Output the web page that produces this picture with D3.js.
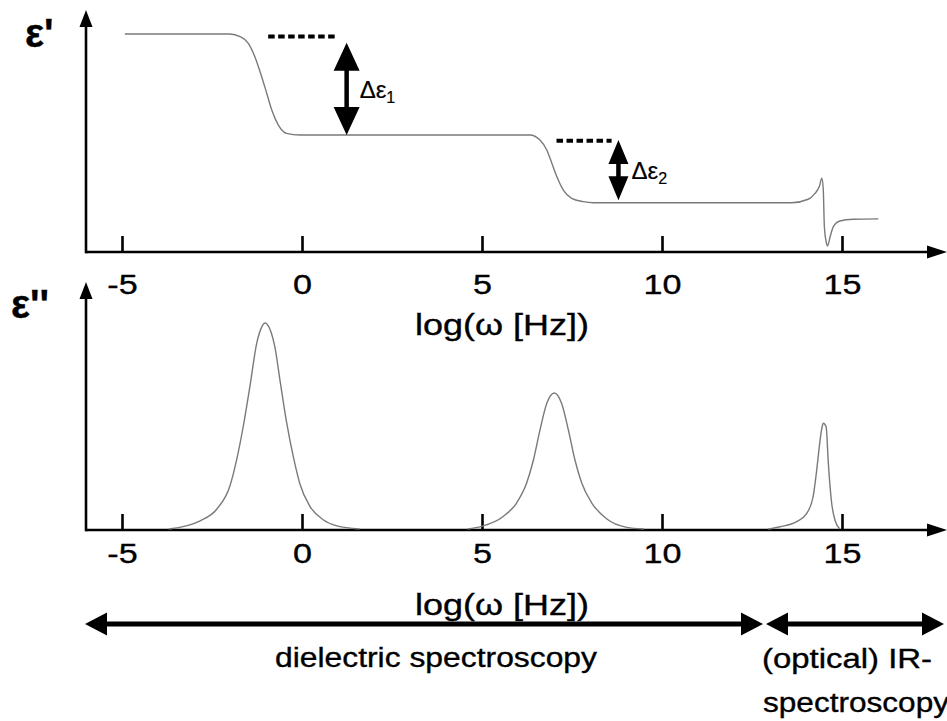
<!DOCTYPE html>
<html>
<head>
<meta charset="utf-8">
<script src="https://cdn.jsdelivr.net/npm/d3@7"></script>
<style>
  html, body { margin: 0; padding: 0; background: #fff; }
  svg { display: block; }
  text { font-family: "Liberation Sans", Arial, Helvetica, sans-serif; fill: #000; stroke: #000; stroke-width: 0.35px; }
</style>
</head>
<body>
<svg id="chart" width="947" height="721"></svg>
<script>
// log10 of angular frequency at the tick marks, and their printed labels
const tickValues = [-5, 0, 5, 10, 15];
const tickLabels = ["-5", "0", "5", "10", "15"];
const axisTitle = "log(\u03c9 [Hz])";

// real part of the permittivity: [log(omega), epsilon']
const epsReal = [
  [-4.92, 10.0], [-2.0, 10.0], [-1.72, 9.88], [-1.49, 9.57], [-1.31, 8.96],
  [-1.12, 8.04], [-0.98, 7.28], [-0.84, 6.51], [-0.66, 5.83], [-0.43, 5.44],
  [-0.06, 5.37], [6.33, 5.37], [6.61, 5.14], [6.80, 4.68], [6.94, 4.07],
  [7.08, 3.45], [7.26, 2.84], [7.49, 2.46], [7.81, 2.31], [8.09, 2.26],
  [13.6, 2.26], [14.06, 2.42], [14.25, 2.69], [14.37, 3.0], [14.44, 3.38],
  [14.48, 2.85], [14.51, 1.16], [14.56, 0.47], [14.60, 0.28], [14.67, 0.70],
  [14.76, 1.16], [14.94, 1.42], [15.31, 1.50], [16.01, 1.52]
];

// imaginary part (loss): one peak per process
const lossPeak1 = [
  [-3.7, 0.0], [-2.83, 0.04], [-2.37, 0.096], [-2.0, 0.21], [-1.81, 0.34],
  [-1.63, 0.50], [-1.44, 0.70], [-1.26, 0.90], [-1.12, 0.98], [-1.03, 1.0],
  [-0.89, 0.97], [-0.75, 0.88], [-0.61, 0.72], [-0.43, 0.52], [-0.24, 0.35],
  [-0.06, 0.22], [0.22, 0.11], [0.59, 0.045], [0.97, 0.015], [1.6, 0.0]
];
const lossPeak2 = [
  [4.6, 0.0], [4.99, 0.013], [5.59, 0.061], [5.96, 0.126], [6.24, 0.223],
  [6.43, 0.336], [6.61, 0.48], [6.80, 0.61], [7.01, 0.66], [7.21, 0.61],
  [7.40, 0.48], [7.58, 0.336], [7.77, 0.223], [8.05, 0.126], [8.46, 0.05],
  [9.02, 0.008], [9.5, 0.0]
];
const lossPeak3 = [
  [12.95, 0.0], [13.28, 0.011], [13.74, 0.036], [14.02, 0.076], [14.2, 0.16],
  [14.30, 0.29], [14.37, 0.40], [14.44, 0.49], [14.48, 0.513], [14.56, 0.495],
  [14.62, 0.32], [14.71, 0.13], [14.81, 0.04], [14.94, 0.0]
];

// relaxation strengths: dotted reference level and double arrow
const deltaLabels = ["\u0394\u03b5", "\u0394\u03b5"];
const deltaSubs = ["1", "2"];
const deltaArrowX = [1.24, 8.79];
const deltaTop = [9.6, 5.14];
const deltaBottom = [5.37, 2.37];
const dashFrom = [-0.94, 7.07];
const dashTo = [0.98, 8.6];
const dashLevel = [9.88, 5.1];

// technique ranges shown under the frequency axis
const rangeNames = [["dielectric spectroscopy"], ["(optical) IR-", "spectroscopy"]];

const svg = d3.select("#chart");

const x = d3.scaleLinear().domain([-5, 15]).range([122, 842]);
const yReal = d3.scaleLinear().domain([0, 10]).range([252, 34]);
const yLoss = d3.scaleLinear().domain([0, 1]).range([529, 323]);

const axisLeft = 86;
const axisRight = 947;

function drawAxes(baseY, topY, yLabel, labelX, labelY, tickBase, titleY) {
  // frequency axis with upward ticks
  const ax = d3.axisBottom(x)
    .tickValues(tickValues)
    .tickFormat((d, i) => tickLabels[i])
    .tickSizeInner(-16)
    .tickSizeOuter(0)
    .tickPadding(0);
  const g = svg.append("g").attr("transform", `translate(0,${baseY})`).call(ax);
  g.select(".domain").remove();
  g.selectAll(".tick line").attr("stroke", "#000").attr("stroke-width", 2.6);
  g.selectAll(".tick text")
    .attr("y", 0)
    .attr("dy", 0)
    .attr("transform", `translate(0,${tickBase - baseY}) scale(1.22,1)`)
    .style("font-size", "28px")
    .style("font-family", "'Liberation Sans', Arial, sans-serif")
    .attr("fill", "#000");

  // axis lines with arrow heads
  svg.append("line").attr("x1", axisLeft).attr("x2", axisRight - 12)
    .attr("y1", baseY).attr("y2", baseY).attr("stroke", "#000").attr("stroke-width", 2.6);
  svg.append("path")
    .attr("d", `M${axisRight},${baseY} L${axisRight - 20},${baseY - 6.5} L${axisRight - 20},${baseY + 6.5} Z`)
    .attr("fill", "#000");
  svg.append("line").attr("x1", axisLeft).attr("x2", axisLeft)
    .attr("y1", baseY + 1.3).attr("y2", topY + 12).attr("stroke", "#000").attr("stroke-width", 2.6);
  svg.append("path")
    .attr("d", `M${axisLeft},${topY} L${axisLeft - 6.5},${topY + 17} L${axisLeft + 6.5},${topY + 17} Z`)
    .attr("fill", "#000");

  // quantity label
  svg.append("text").attr("x", labelX).attr("y", labelY)
    .style("font-size", "40px").style("font-weight", "bold")
    .text(yLabel);

  // frequency title
  svg.append("text").attr("x", 502).attr("y", titleY)
    .attr("text-anchor", "middle")
    .attr("textLength", 174).attr("lengthAdjust", "spacingAndGlyphs")
    .style("font-size", "29px")
    .text(axisTitle);
}

drawAxes(252, 10, "\u03b5'", 25, 47, 294, 335);
drawAxes(530, 282, "\u03b5''", 11, 318, 563, 615);

// curves
const line = (ys) => d3.line().x(d => x(d[0])).y(d => ys(d[1])).curve(d3.curveMonotoneX);

svg.append("path").datum(epsReal)
  .attr("d", line(yReal))
  .attr("fill", "none").attr("stroke", "#7a7a7a").attr("stroke-width", 1.4);

[lossPeak1, lossPeak2, lossPeak3].forEach(p => {
  svg.append("path").datum(p)
    .attr("d", line(yLoss))
    .attr("fill", "none").attr("stroke", "#7a7a7a").attr("stroke-width", 1.4);
});

// vertical double arrow
function doubleArrowV(cx, y1, y2, headW, headH, shaft) {
  const hw = headW / 2, s = shaft / 2;
  return `M${cx},${y1} L${cx + hw},${y1 + headH} L${cx + s},${y1 + headH} ` +
         `L${cx + s},${y2 - headH} L${cx + hw},${y2 - headH} L${cx},${y2} ` +
         `L${cx - hw},${y2 - headH} L${cx - s},${y2 - headH} L${cx - s},${y1 + headH} ` +
         `L${cx - hw},${y1 + headH} Z`;
}
// horizontal double arrow
function doubleArrowH(cy, x1, x2, headL, headH, shaft) {
  const hh = headH / 2, s = shaft / 2;
  return `M${x1},${cy} L${x1 + headL},${cy - hh} L${x1 + headL},${cy - s} ` +
         `L${x2 - headL},${cy - s} L${x2 - headL},${cy - hh} L${x2},${cy} ` +
         `L${x2 - headL},${cy + hh} L${x2 - headL},${cy + s} L${x1 + headL},${cy + s} ` +
         `L${x1 + headL},${cy + hh} Z`;
}

const headSizes = [[26, 28], [20, 24]];
deltaArrowX.forEach((dx, i) => {
  svg.append("line")
    .attr("x1", x(dashFrom[i])).attr("x2", x(dashTo[i]))
    .attr("y1", yReal(dashLevel[i])).attr("y2", yReal(dashLevel[i]))
    .attr("stroke", "#000").attr("stroke-width", 4)
    .attr("stroke-dasharray", "6.5,3.5");
  svg.append("path")
    .attr("d", doubleArrowV(x(dx), yReal(deltaTop[i]), yReal(deltaBottom[i]),
                            headSizes[i][0], headSizes[i][1], 4.5))
    .attr("fill", "#000");
  const t = svg.append("text")
    .attr("x", x(dx) + 13)
    .attr("y", (yReal(deltaTop[i]) + yReal(deltaBottom[i])) / 2 + 9)
    .style("font-size", "24px")
    .style("stroke-width", "0.2px");
  t.append("tspan").text(deltaLabels[i]);
  t.append("tspan").attr("dy", 5).style("font-size", "16px").text(deltaSubs[i]);
});

// technique ranges
const rangeY = 624;
const rangeEnds = [[85, 763], [766, 944]];
rangeEnds.forEach(([x1, x2]) => {
  svg.append("path")
    .attr("d", doubleArrowH(rangeY, x1, x2, 22, 23, 5))
    .attr("fill", "#000");
});
svg.append("text").attr("x", 436).attr("y", 667)
  .attr("text-anchor", "middle").style("font-size", "27px")
  .attr("textLength", 322).attr("lengthAdjust", "spacingAndGlyphs")
  .text(rangeNames[0][0]);
svg.append("text").attr("x", 762).attr("y", 668)
  .style("font-size", "27px")
  .attr("textLength", 170).attr("lengthAdjust", "spacingAndGlyphs")
  .text(rangeNames[1][0]);
svg.append("text").attr("x", 763).attr("y", 712)
  .style("font-size", "27px")
  .attr("textLength", 186).attr("lengthAdjust", "spacingAndGlyphs")
  .text(rangeNames[1][1]);
</script>
</body>
</html>
